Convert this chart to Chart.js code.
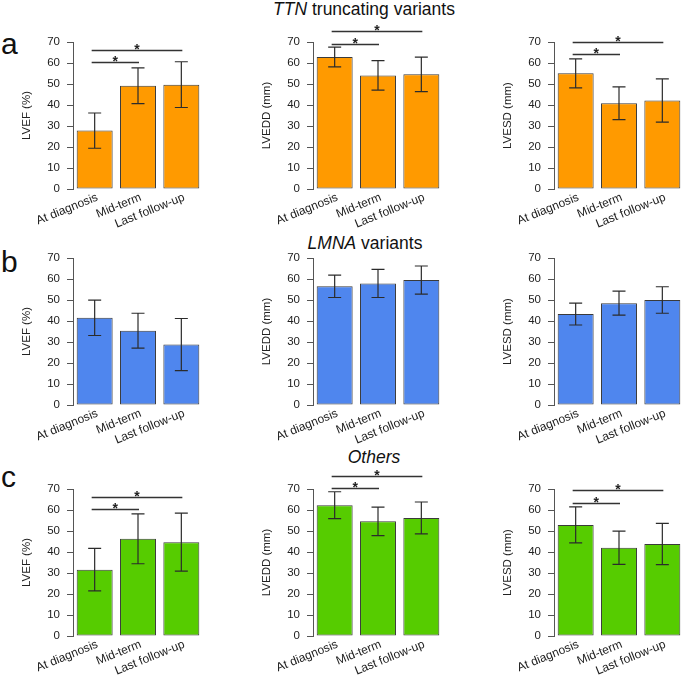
<!DOCTYPE html>
<html>
<head>
<meta charset="utf-8">
<script src="https://cdn.jsdelivr.net/npm/chart.js@4.4.1/dist/chart.umd.min.js"></script>
<style>
  html, body { margin: 0; padding: 0; background: #fff; overflow: hidden; }
  body { width: 685px; height: 675px; position: relative; font-family: "Liberation Sans", Arial, sans-serif; }
  canvas { position: absolute; }
  .title { position: absolute; font-size: 17.5px; line-height: 1; color: #111; white-space: nowrap; transform: translateX(-50%); }
  .letter { position: absolute; font-size: 30px; line-height: 1; color: #111; }
</style>
</head>
<body>
<div class="letter" style="left:1px;top:29px">a</div>
<div class="letter" style="left:1px;top:247px">b</div>
<div class="letter" style="left:1px;top:462px">c</div>
<div class="title" style="left:364px;top:1px"><i>TTN</i> truncating variants</div>
<div class="title" style="left:365px;top:235px"><i>LMNA</i> variants</div>
<div class="title" style="left:374px;top:449px"><i>Others</i></div>

<canvas id="c00" width="183" height="232"></canvas>
<canvas id="c01" width="183" height="232"></canvas>
<canvas id="c02" width="183" height="232"></canvas>
<canvas id="c10" width="183" height="232"></canvas>
<canvas id="c11" width="183" height="232"></canvas>
<canvas id="c12" width="183" height="232"></canvas>
<canvas id="c20" width="183" height="232"></canvas>
<canvas id="c21" width="183" height="232"></canvas>
<canvas id="c22" width="183" height="232"></canvas>

<script>
// ---- data (mean and SD per time point) ----
const categories = ["At diagnosis", "Mid-term", "Last follow-up"];
const yTicks = [0, 10, 20, 30, 40, 50, 60, 70];

// TTN truncating variants
const ttnLvef = [27.8, 49.2, 49.7];
const ttnLvefSd = [8.4, 8.5, 10.9];
const ttnLvedd = [62.9, 54.1, 54.6];
const ttnLveddSd = [4.7, 7.0, 8.2];
const ttnLvesd = [55.1, 40.8, 42.1];
const ttnLvesdSd = [6.9, 7.8, 10.3];
// bracket heights for (diagnosis vs mid-term, diagnosis vs last follow-up)
const ttnLvefSig = [60.4, 66.3];
const ttnLveddSig = [69.0, 75.1];
const ttnLvesdSig = [64.3, 70.0];

// LMNA variants
const lmnaLvef = [41.5, 35.4, 28.8];
const lmnaLvefSd = [8.4, 8.3, 12.4];
const lmnaLvedd = [56.5, 57.9, 59.5];
const lmnaLveddSd = [5.3, 6.7, 6.7];
const lmnaLvesd = [43.3, 48.5, 50.0];
const lmnaLvesdSd = [5.2, 5.7, 6.3];

// Others
const othLvef = [31.6, 46.3, 44.7];
const othLvefSd = [10.1, 11.9, 13.8];
const othLvedd = [62.3, 54.6, 56.2];
const othLveddSd = [6.4, 6.8, 7.6];
const othLvesd = [52.9, 42.0, 43.8];
const othLvesdSd = [8.6, 7.9, 9.8];
const othLvefSig = [60.4, 66.2];
const othLveddSig = [70.4, 76.3];
const othLvesdSig = [63.5, 69.5];

const orange = "#FF9A00";
const blue = "#4F86EE";
const green = "#56CC00";

const fontFamily = '"Liberation Sans", Arial, sans-serif';
Chart.defaults.font.family = fontFamily;
Chart.defaults.color = "#222";

// error bars: vertical line with caps, mean +/- sd
const errorBars = {
  id: "errorBars",
  afterDatasetsDraw(chart, args, opts) {
    const ctx = chart.ctx;
    const y = chart.scales.y;
    const means = chart.data.datasets[0].data;
    const meta = chart.getDatasetMeta(0);
    ctx.save();
    ctx.strokeStyle = "#2b2b2b";
    ctx.lineWidth = 1.2;
    meta.data.forEach(function(bar, i) {
      let hi = y.getPixelForValue(means[i] + opts.sd[i]);
      let lo = y.getPixelForValue(means[i] - opts.sd[i]);
      ctx.beginPath();
      ctx.moveTo(bar.x, hi); ctx.lineTo(bar.x, lo);
      ctx.moveTo(bar.x - 6.5, hi); ctx.lineTo(bar.x + 6.5, hi);
      ctx.moveTo(bar.x - 6.5, lo); ctx.lineTo(bar.x + 6.5, lo);
      ctx.stroke();
    });
    ctx.restore();
  }
};

// significance brackets from first bar to bar 2 and bar 3
const brackets = {
  id: "brackets",
  afterDraw(chart, args, opts) {
    if (!opts.levels) return;
    const ctx = chart.ctx;
    const y = chart.scales.y;
    const meta = chart.getDatasetMeta(0);
    ctx.save();
    ctx.strokeStyle = "#333";
    ctx.fillStyle = "#222";
    ctx.lineWidth = 1.5;
    ctx.font = "bold 14px " + fontFamily;
    ctx.textAlign = "center";
    ctx.textBaseline = "alphabetic";
    opts.levels.forEach(function(level, k) {
      let x0 = meta.data[0].x - 3;
      let x1 = meta.data[k + 1].x + 1;
      let py = Math.round(y.getPixelForValue(level)) + 0.5;
      ctx.beginPath();
      ctx.moveTo(x0, py); ctx.lineTo(x1, py);
      ctx.stroke();
      ctx.fillText("*", (x0 + x1) / 2, py + 3);
    });
    ctx.restore();
  }
};

// slanted category labels, right end anchored just under each bar centre
const slantLabels = {
  id: "slantLabels",
  afterDraw(chart) {
    const ctx = chart.ctx;
    const x = chart.scales.x;
    const bottom = chart.chartArea.bottom;
    ctx.save();
    ctx.font = "12px " + fontFamily;
    ctx.fillStyle = "#222";
    ctx.textAlign = "right";
    ctx.textBaseline = "alphabetic";
    chart.data.labels.forEach(function(label, i) {
      let px = x.getPixelForValue(i);
      ctx.save();
      ctx.translate(px + 4, bottom + 11);
      ctx.rotate(-22 * Math.PI / 180);
      ctx.fillText(label, 0, 0);
      ctx.restore();
    });
    ctx.restore();
  }
};

function makePanel(id, left, top, means, sd, color, yTitle, sig) {
  let canvas = document.getElementById(id);
  canvas.style.left = left + "px";
  canvas.style.top = top + "px";
  return new Chart(canvas, {
    type: "bar",
    data: {
      labels: categories,
      datasets: [{
        data: means,
        backgroundColor: color,
        borderColor: "#3a3a3a",
        borderWidth: 1,
        borderSkipped: false,
        categoryPercentage: 1,
        barPercentage: 0.83
      }]
    },
    options: {
      responsive: false,
      animation: false,
      layout: { padding: { top: 40, left: 0, right: 0, bottom: 0 } },
      plugins: {
        legend: { display: false },
        tooltip: { enabled: false },
        errorBars: { sd: sd },
        brackets: { levels: sig }
      },
      scales: {
        x: {
          grid: { display: false, drawTicks: false },
          border: { display: false },
          ticks: { display: false },
          afterFit: function(s) { s.height = 45; }
        },
        y: {
          min: 0,
          max: 70,
          afterBuildTicks: function(s) { s.ticks = yTicks.map(function(v) { return { value: v }; }); },
          grid: { drawOnChartArea: false, drawTicks: true, tickLength: 6, color: "#555", lineWidth: 1 },
          border: { display: true, color: "#555", width: 1 },
          ticks: { font: { size: 11.5 }, padding: 7, color: "#222" },
          title: { display: true, text: yTitle, font: { size: 11.5 }, padding: 0, color: "#222" },
          afterFit: function(s) { s.width = 53; }
        }
      }
    },
    plugins: [errorBars, brackets, slantLabels]
  });
}

const colLeft = [20, 260, 501];
const rowTop = [1.5, 218.3, 449];

makePanel("c00", colLeft[0], rowTop[0], ttnLvef, ttnLvefSd, orange, "LVEF (%)", ttnLvefSig);
makePanel("c01", colLeft[1], rowTop[0], ttnLvedd, ttnLveddSd, orange, "LVEDD (mm)", ttnLveddSig);
makePanel("c02", colLeft[2], rowTop[0], ttnLvesd, ttnLvesdSd, orange, "LVESD (mm)", ttnLvesdSig);
makePanel("c10", colLeft[0], rowTop[1], lmnaLvef, lmnaLvefSd, blue, "LVEF (%)", null);
makePanel("c11", colLeft[1], rowTop[1], lmnaLvedd, lmnaLveddSd, blue, "LVEDD (mm)", null);
makePanel("c12", colLeft[2], rowTop[1], lmnaLvesd, lmnaLvesdSd, blue, "LVESD (mm)", null);
makePanel("c20", colLeft[0], rowTop[2], othLvef, othLvefSd, green, "LVEF (%)", othLvefSig);
makePanel("c21", colLeft[1], rowTop[2], othLvedd, othLveddSd, green, "LVEDD (mm)", othLveddSig);
makePanel("c22", colLeft[2], rowTop[2], othLvesd, othLvesdSd, green, "LVESD (mm)", othLvesdSig);
</script>
</body>
</html>
